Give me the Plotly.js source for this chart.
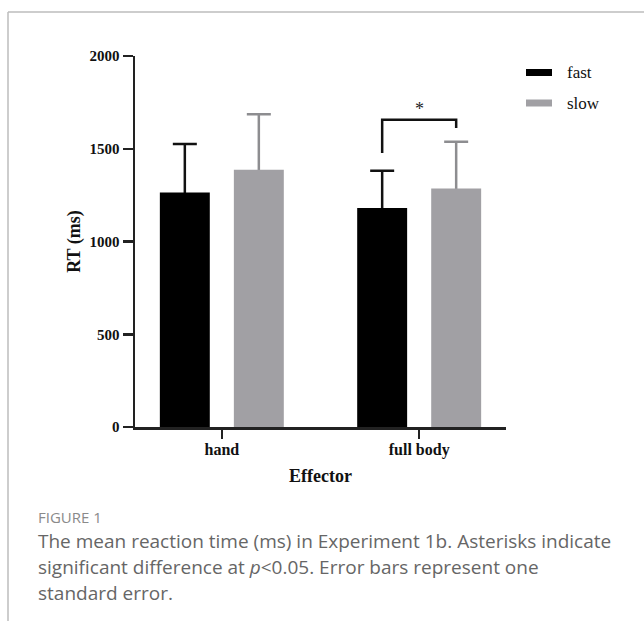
<!DOCTYPE html>
<html>
<head>
<meta charset="utf-8">
<script src="https://cdn.plot.ly/plotly-3.0.1.min.js"></script>
<style>
html,body{margin:0;padding:0;background:#fff;}
#chart{width:644px;height:621px;}
</style>
</head>
<body>
<div id="chart"></div>
<script>
// ---- data ----
const categories = ['hand', 'full body'];
const seriesNames = ['fast', 'slow'];
const fastMean = [1264, 1181];
const fastSE = [262, 200];
const slowMean = [1387, 1286];
const slowSE = [299, 252];
const yTickVals = [0, 500, 1000, 1500, 2000];
const yTickText = ['0', '500', '1000', '1500', '2000'];
// significance bracket over "full body": [left leg bottom, bar top, right leg bottom]
const sigCategory = 1;
const sigBracketY = [1477, 1657, 1612];
const sigLabel = '*';
const captionHead = 'FIGURE 1';
const captionLines = [
  'The mean reaction time (ms) in Experiment 1b. Asterisks indicate',
  'significant difference at <i>p</i>&lt;0.05. Error bars represent one',
  'standard error.'
];

// ---- layout geometry ----
const W = 644, H = 621;
const M = {l: 135, r: 138, t: 56, b: 194};
const plotW = W - M.l - M.r, plotH = H - M.t - M.b;
const px2x = px => (px - M.l) / plotW;
const px2y = py => (H - M.b - py) / plotH;

const bargap = 0.25, bargroupgap = 0.325;
const barOffset = (1 - bargap) / 4;

const serif = 'Liberation Serif, Times New Roman, serif';
const fastColor = '#000000';
const slowColor = '#a1a0a4';

// error whiskers are carried by transparent bars drawn first, so the
// visible bars cover the lower part of each whisker (upper error only)
function whiskerTrace(mean, se, group, color) {
  return {
    type: 'bar', x: categories, y: mean, offsetgroup: group,
    marker: {color: 'rgba(0,0,0,0)', line: {width: 0}},
    error_y: {type: 'data', symmetric: false, array: se, arrayminus: mean,
      color: color, thickness: 2.5, width: 12},
    showlegend: false, hoverinfo: 'skip'
  };
}

const traces = [
  whiskerTrace(fastMean, fastSE, 'fast', '#111'),
  whiskerTrace(slowMean, slowSE, 'slow', '#8d8d90'),
  {
    type: 'bar', name: seriesNames[0], x: categories, y: fastMean, offsetgroup: 'fast',
    marker: {color: fastColor, line: {width: 0}},
    showlegend: false, hoverinfo: 'skip'
  },
  {
    type: 'bar', name: seriesNames[1], x: categories, y: slowMean, offsetgroup: 'slow',
    marker: {color: slowColor, line: {width: 0}},
    showlegend: false, hoverinfo: 'skip'
  }
];

const shapes = [];
const annotations = [];

// page frame (left and top rule)
shapes.push({type: 'line', xref: 'paper', yref: 'paper', x0: px2x(8), x1: px2x(8), y0: px2y(12), y1: px2y(H + 5),
  line: {color: '#bdbdbd', width: 1.5}, layer: 'below'});
shapes.push({type: 'line', xref: 'paper', yref: 'paper', x0: px2x(8), x1: px2x(W + 5), y0: px2y(12), y1: px2y(12),
  line: {color: '#bdbdbd', width: 1.5}, layer: 'below'});

// significance bracket
const xl = sigCategory - barOffset, xr = sigCategory + barOffset;
shapes.push({type: 'path', xref: 'x', yref: 'y',
  path: `M ${xl},${sigBracketY[0]} L ${xl},${sigBracketY[1]} L ${xr},${sigBracketY[1]} L ${xr},${sigBracketY[2]}`,
  line: {color: '#111', width: 2.5}});
annotations.push({xref: 'x', yref: 'y', x: sigCategory, y: sigBracketY[1], text: sigLabel, showarrow: false,
  yanchor: 'bottom', yshift: -1, font: {family: serif, size: 18, color: '#222'}});

// legend drawn as swatches + labels
const legendColors = [fastColor, slowColor];
const legendYpx = [72.5, 103];
seriesNames.forEach((n, i) => {
  shapes.push({type: 'rect', xref: 'paper', yref: 'paper',
    x0: px2x(526), x1: px2x(552), y0: px2y(legendYpx[i] + 3.5), y1: px2y(legendYpx[i] - 3.5),
    fillcolor: legendColors[i], line: {width: 0}});
  annotations.push({xref: 'paper', yref: 'paper', x: px2x(565), y: px2y(legendYpx[i]), xanchor: 'left', yanchor: 'middle',
    text: n, showarrow: false, font: {family: serif, size: 17, color: '#111'}});
});

// caption
const sans = 'Open Sans, Noto Sans, sans-serif';
annotations.push({xref: 'paper', yref: 'paper', x: px2x(36), y: px2y(517), xanchor: 'left', yanchor: 'middle',
  text: captionHead, showarrow: false, font: {family: sans, size: 15, color: '#8a8a8a'}});
const capY = [541, 567, 593];
captionLines.forEach((t, i) => {
  annotations.push({xref: 'paper', yref: 'paper', x: px2x(36), y: px2y(capY[i]), xanchor: 'left', yanchor: 'middle',
    text: t, showarrow: false, font: {family: sans, size: 19, color: '#666666'}});
});

const layout = {
  width: W, height: H,
  margin: M,
  paper_bgcolor: '#fff', plot_bgcolor: '#fff',
  barmode: 'group', bargap: bargap, bargroupgap: bargroupgap,
  showlegend: false,
  xaxis: {
    type: 'category', range: [-0.44, 1.44], fixedrange: true,
    showline: true, linecolor: '#222', linewidth: 2.5, mirror: false,
    ticks: 'outside', ticklen: 9, tickwidth: 2.5, tickcolor: '#222',
    ticklabelstandoff: -3,
    showgrid: false, zeroline: false,
    tickfont: {family: serif, size: 16, color: '#111', weight: 'bold'},
    title: {text: 'Effector', font: {family: serif, size: 18, color: '#111', weight: 'bold'}, standoff: 12}
  },
  yaxis: {
    range: [0, 2000], fixedrange: true,
    tickvals: yTickVals, ticktext: yTickText,
    showline: true, linecolor: '#222', linewidth: 2.5,
    ticks: 'outside', ticklen: 10, tickwidth: 2.5, tickcolor: '#222',
    ticklabelstandoff: 0,
    showgrid: false, zeroline: false,
    tickfont: {family: serif, size: 15, color: '#111', weight: 'bold'},
    title: {text: 'RT (ms)', font: {family: serif, size: 18, color: '#111', weight: 'bold'}, standoff: 4}
  },
  shapes: shapes,
  annotations: annotations
};

Plotly.newPlot('chart', traces, layout, {displayModeBar: false, staticPlot: true});
</script>
</body>
</html>
